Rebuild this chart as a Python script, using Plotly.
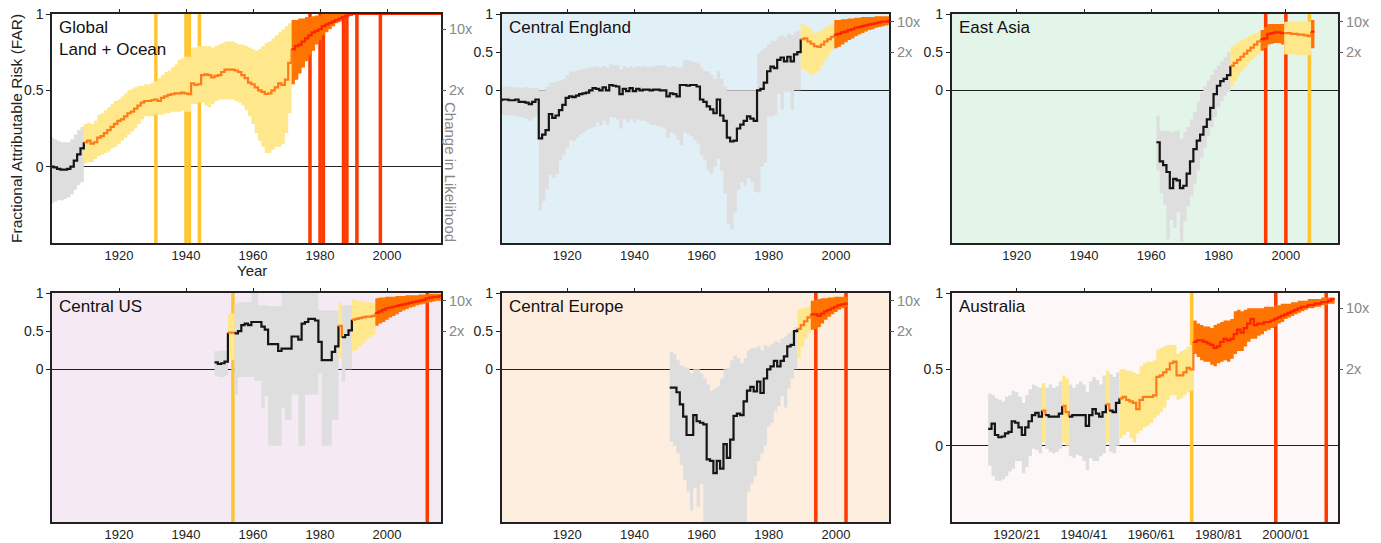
import plotly.graph_objects as go

# ------------------------------------------------------------------ data
YEAR_TICKS = [1920, 1940, 1960, 1980, 2000]
YEAR_LABELS = ["1920", "1940", "1960", "1980", "2000"]
SEASON_LABELS = ["1920/21", "1940/41", "1960/61", "1980/81", "2000/01"]
FAR_TICKS = [0, 0.5, 1]
FAR_LABELS = ["0", "0.5", "1"]
RR_TICKS = [0.5, 0.9]
RR_LABELS = ["2x", "10x"]
PANEL_NAMES = ["Global<br>Land + Ocean", "Central England", "East Asia",
               "Central US", "Central Europe", "Australia"]

# Global Land + Ocean, 1900-2016
GL_FIRST = 1900
GL_FAR = [0.00, -0.005, -0.015, -0.02, -0.02, -0.015, 0.00, 0.04, 0.08, 0.12,
          0.16, 0.17, 0.15, 0.16, 0.19, 0.20, 0.22, 0.24, 0.26, 0.28,
          0.30, 0.31, 0.33, 0.35, 0.36, 0.38, 0.40, 0.42, 0.43, 0.43,
          0.435, 0.44, 0.43, 0.45, 0.46, 0.47, 0.475, 0.48, 0.48, 0.485,
          0.48, 0.475, 0.545, 0.535, 0.54, 0.60, 0.605, 0.60, 0.585, 0.595,
          0.60, 0.62, 0.635, 0.635, 0.635, 0.63, 0.62, 0.60, 0.58, 0.55,
          0.54, 0.52, 0.50, 0.49, 0.476, 0.48, 0.50, 0.52, 0.545, 0.535,
          0.57, 0.68, 0.77, 0.79, 0.80, 0.82, 0.84, 0.86, 0.88, 0.89,
          0.90, 0.92, 0.93, 0.94, 0.95, 0.96, 0.97, 0.98, 0.99, 0.995,
          1.0, 1.0, 1.0, 1.0, 1.0, 1.0, 1.0, 1.0, 1.0, 1.0,
          1.0, 1.0, 1.0, 1.0, 1.0, 1.0, 1.0, 1.0, 1.0, 1.0,
          1.0, 1.0, 1.0, 1.0, 1.0, 1.0, 1.0]
GL_HI = [0.19, 0.18, 0.17, 0.16, 0.16, 0.16, 0.18, 0.21, 0.24, 0.26,
         0.28, 0.29, 0.28, 0.30, 0.34, 0.35, 0.37, 0.39, 0.41, 0.43,
         0.44, 0.46, 0.48, 0.50, 0.51, 0.52, 0.53, 0.53, 0.54, 0.54,
         0.55, 0.56, 0.58, 0.60, 0.62, 0.63, 0.65, 0.67, 0.70, 0.71,
         0.72, 0.72, 0.78, 0.78, 0.79, 0.79, 0.79, 0.79, 0.78, 0.79,
         0.80, 0.81, 0.82, 0.82, 0.82, 0.81, 0.80, 0.80, 0.79, 0.78,
         0.77, 0.76, 0.77, 0.79, 0.81, 0.82, 0.84, 0.86, 0.88, 0.90,
         0.92, 0.94, 0.96, 0.96, 0.97, 0.97, 0.98, 0.98, 0.985, 0.99,
         0.99, 1.0, 1.0, 1.0, 1.0, 1.0, 1.0, 1.0, 1.0, 1.0,
         1.0, 1.0, 1.0, 1.0, 1.0, 1.0, 1.0, 1.0, 1.0, 1.0,
         1.0, 1.0, 1.0, 1.0, 1.0, 1.0, 1.0, 1.0, 1.0, 1.0,
         1.0, 1.0, 1.0, 1.0, 1.0, 1.0, 1.0]
GL_LO = [-0.24, -0.23, -0.22, -0.22, -0.21, -0.20, -0.18, -0.15, -0.12, -0.10,
         0.02, 0.03, 0.03, 0.05, 0.07, 0.08, 0.09, 0.10, 0.12, 0.13,
         0.15, 0.17, 0.19, 0.21, 0.23, 0.25, 0.28, 0.31, 0.33, 0.33,
         0.33, 0.34, 0.34, 0.34, 0.35, 0.35, 0.36, 0.36, 0.36, 0.37,
         0.36, 0.36, 0.41, 0.41, 0.42, 0.42, 0.40, 0.39, 0.41, 0.43,
         0.44, 0.44, 0.44, 0.44, 0.44, 0.43, 0.42, 0.40, 0.37, 0.33,
         0.28, 0.22, 0.17, 0.13, 0.09, 0.09, 0.11, 0.13, 0.13, 0.15,
         0.22, 0.35, 0.54, 0.57, 0.61, 0.65, 0.69, 0.73, 0.76, 0.80,
         0.83, 0.86, 0.88, 0.90, 0.92, 0.94, 0.95, 0.97, 0.98, 0.99,
         1.0, 1.0, 1.0, 1.0, 1.0, 1.0, 1.0, 1.0, 1.0, 1.0,
         1.0, 1.0, 1.0, 1.0, 1.0, 1.0, 1.0, 1.0, 1.0, 1.0,
         1.0, 1.0, 1.0, 1.0, 1.0, 1.0, 1.0]
GL_SIG_FROM = [1900, 1910, 1972]
GL_SIG_LEVEL = [0, 1, 2]
GL_YELLOW = [1931, 1940, 1941, 1944]
GL_RED = [1977, 1980, 1981, 1987, 1988, 1991, 1998]

# Central England, 1900-2016
CE_FIRST = 1900
CE_FAR = [-0.13, -0.12, -0.12, -0.13, -0.13, -0.12, -0.15, -0.15, -0.16, -0.18,
          -0.15, -0.12, -0.63, -0.58, -0.52, -0.31, -0.36, -0.33, -0.26, -0.19,
          -0.10, -0.08, -0.09, -0.07, -0.05, -0.04, -0.03, 0.00, 0.03, 0.02,
          0.00, 0.04, 0.00, 0.07, 0.06, 0.05, -0.05, 0.02, -0.01, 0.03,
          -0.01, 0.02, 0.00, 0.01, 0.01, 0.00, 0.01, 0.01, 0.00, 0.00,
          -0.08, -0.04, -0.05, -0.08, 0.07, 0.07, 0.06, 0.07, 0.07, 0.05,
          -0.12, -0.15, -0.21, -0.25, -0.30, -0.12, -0.33, -0.40, -0.62, -0.67,
          -0.66, -0.50, -0.45, -0.40, -0.34, -0.37, -0.40, 0.00, 0.02, 0.10,
          0.25, 0.31, 0.29, 0.40, 0.43, 0.38, 0.44, 0.38, 0.47, 0.50,
          0.67, 0.68, 0.64, 0.61, 0.58, 0.57, 0.60, 0.64, 0.67, 0.70,
          0.73, 0.74, 0.76, 0.77, 0.79, 0.80, 0.82, 0.83, 0.84, 0.85,
          0.86, 0.87, 0.88, 0.89, 0.90, 0.90, 0.91]
CE_HI = [0.04, 0.04, 0.05, 0.05, 0.04, 0.04, 0.03, 0.04, 0.04, 0.03,
         0.03, 0.03, 0.00, 0.00, 0.05, 0.10, 0.10, 0.12, 0.13, 0.15,
         0.20, 0.25, 0.24, 0.26, 0.27, 0.28, 0.29, 0.30, 0.31, 0.32,
         0.30, 0.32, 0.30, 0.34, 0.33, 0.33, 0.28, 0.32, 0.30, 0.32,
         0.30, 0.32, 0.31, 0.32, 0.31, 0.31, 0.32, 0.33, 0.33, 0.33,
         0.30, 0.31, 0.32, 0.30, 0.30, 0.40, 0.40, 0.38, 0.37, 0.35,
         0.30, 0.25, 0.25, 0.20, 0.15, 0.25, 0.15, 0.05, 0.00, 0.00,
         0.00, 0.00, 0.00, 0.00, 0.00, 0.00, 0.00, 0.48, 0.52, 0.55,
         0.60, 0.65, 0.65, 0.70, 0.72, 0.70, 0.74, 0.72, 0.76, 0.78,
         0.88, 0.85, 0.82, 0.78, 0.75, 0.77, 0.80, 0.83, 0.86, 0.88,
         0.92, 0.92, 0.93, 0.93, 0.94, 0.94, 0.95, 0.95, 0.96, 0.96,
         0.96, 0.96, 0.97, 0.97, 0.97, 0.97, 0.97]
CE_LO = [-0.32, -0.32, -0.33, -0.33, -0.33, -0.34, -0.35, -0.36, -0.38, -0.40,
         -0.36, -0.33, -1.57, -1.45, -1.30, -1.10, -1.15, -1.10, -0.92, -0.85,
         -0.75, -0.65, -0.66, -0.62, -0.58, -0.55, -0.52, -0.50, -0.48, -0.42,
         -0.46, -0.40, -0.45, -0.35, -0.36, -0.38, -0.50, -0.38, -0.42, -0.38,
         -0.42, -0.38, -0.40, -0.40, -0.42, -0.45, -0.45, -0.46, -0.48, -0.50,
         -0.62, -0.55, -0.58, -0.65, -0.72, -0.55, -0.58, -0.60, -0.65, -0.70,
         -0.85, -0.92, -1.05, -1.10, -1.00, -0.90, -1.05, -1.35, -1.75, -1.82,
         -1.60, -1.30, -1.20, -1.25, -1.15, -1.20, -1.33, -1.34, -1.00, -0.95,
         -0.34, -0.34, -0.32, -0.05, -0.25, -0.02, -0.02, -0.25, 0.00, 0.00,
         0.28, 0.26, 0.22, 0.20, 0.22, 0.26, 0.33, 0.40, 0.47, 0.53,
         0.55, 0.57, 0.60, 0.63, 0.66, 0.68, 0.71, 0.73, 0.75, 0.77,
         0.79, 0.80, 0.82, 0.83, 0.84, 0.85, 0.86]
CE_SIG_FROM = [1900, 1990, 2000]
CE_SIG_LEVEL = [0, 1, 2]
CE_YELLOW = []
CE_RED = []

# East Asia, 1962-2008
EA_FIRST = 1962
EA_FAR = [-0.68, -0.93, -0.98, -1.07, -1.28, -1.16, -1.18, -1.28,
          -1.25, -1.09, -0.93, -0.77, -0.66, -0.58, -0.48, -0.38, -0.23, -0.05,
          0.06, 0.12, 0.15, 0.20, 0.32, 0.36, 0.40, 0.44, 0.48, 0.52,
          0.56, 0.60, 0.64, 0.67, 0.68, 0.74, 0.75, 0.76, 0.76, 0.75,
          0.75, 0.75, 0.74, 0.74, 0.73, 0.73, 0.72, 0.71, 0.77]
EA_HI = [-0.33, -0.53, -0.53, -0.53, -0.55, -0.53, -0.53, -0.64,
         -0.55, -0.48, -0.38, -0.28, -0.15, -0.03, 0.05, 0.13, 0.20, 0.27,
         0.33, 0.38, 0.43, 0.50, 0.57, 0.60, 0.63, 0.66, 0.68, 0.71,
         0.73, 0.75, 0.77, 0.79, 0.83, 0.87, 0.87, 0.87, 0.87, 0.87,
         0.90, 0.90, 0.90, 0.90, 0.90, 0.90, 0.90, 0.90, 0.92]
EA_LO = [-1.05, -1.35, -1.50, -1.95, -1.70, -1.80, -1.60, -1.98,
         -1.72, -1.52, -1.38, -1.22, -1.05, -0.88, -0.75, -0.60, -0.48, -0.35,
         -0.22, -0.14, -0.07, -0.02, 0.05, 0.12, 0.19, 0.25, 0.31, 0.36,
         0.40, 0.44, 0.48, 0.52, 0.55, 0.60, 0.61, 0.62, 0.62, 0.60,
         0.47, 0.47, 0.47, 0.47, 0.46, 0.46, 0.46, 0.46, 0.55]
EA_SIG_FROM = [1962, 1984, 1993, 2000, 2008]
EA_SIG_LEVEL = [0, 1, 2, 1, 2]
EA_YELLOW = [2007]
EA_RED = [1994, 2000]

# Central US, 1949-2016
US_FIRST = 1949
US_FAR = [0.09, 0.07, 0.08, 0.10, 0.48, 0.48, 0.47, 0.50, 0.58, 0.60,
          0.58, 0.62, 0.62, 0.62, 0.56, 0.52, 0.33, 0.33, 0.33, 0.24,
          0.27, 0.27, 0.27, 0.43, 0.43, 0.39, 0.60, 0.62, 0.66, 0.66,
          0.64, 0.36, 0.12, 0.12, 0.12, 0.23, 0.30, 0.57, 0.42, 0.45,
          0.51, 0.65, 0.66, 0.67, 0.68, 0.69, 0.69, 0.70, 0.74, 0.76,
          0.78, 0.80, 0.81, 0.82, 0.83, 0.84, 0.85, 0.86, 0.87, 0.88,
          0.89, 0.90, 0.91, 0.93, 0.94, 0.95, 0.95, 0.96]
US_HI = [0.24, 0.24, 0.25, 0.24, 0.73, 0.73, 0.86, 0.88, 0.88, 0.88,
         0.88, 1.00, 1.00, 0.84, 0.84, 0.84, 0.83, 0.83, 0.83, 0.83,
         1.00, 1.00, 1.00, 1.00, 1.00, 1.00, 1.00, 1.00, 1.00, 1.00,
         1.00, 0.77, 0.77, 0.77, 0.77, 0.77, 0.77, 0.87, 0.84, 0.84,
         0.84, 0.91, 0.90, 0.90, 0.89, 0.88, 0.88, 0.87, 0.93, 0.94,
         0.94, 0.95, 0.95, 0.95, 0.96, 0.96, 0.96, 0.97, 0.97, 0.97,
         0.97, 0.98, 0.98, 0.98, 0.99, 0.99, 0.99, 0.99]
US_LO = [-0.08, -0.10, -0.10, -0.08, 0.12, 0.12, -0.33, -0.10, -0.10, -0.10,
         -0.10, -0.10, -0.15, -0.15, -0.50, -0.35, -1.00, -1.00, -1.00, -1.00,
         -0.50, -0.66, -0.66, -0.33, -0.33, -1.00, -1.00, -0.33, -0.33, -0.33,
         -0.33, -0.05, -1.00, -1.00, -1.00, -0.66, -0.66, 0.14, -0.16, 0.00,
         0.00, 0.24, 0.26, 0.30, 0.34, 0.38, 0.42, 0.45, 0.57, 0.60,
         0.62, 0.65, 0.68, 0.70, 0.72, 0.75, 0.77, 0.79, 0.81, 0.82,
         0.84, 0.85, 0.86, 0.87, 0.88, 0.89, 0.90, 0.90]
US_SIG_FROM = [1949, 1953, 1955, 1986, 1987, 1990, 1997]
US_SIG_LEVEL = [0, 1, 0, 1, 0, 1, 2]
US_YELLOW = [1954]
US_RED = [2012]

# Central Europe, 1951-2003
EU_FIRST = 1951
EU_FAR = [-0.24, -0.24, -0.30, -0.46, -0.62, -0.86, -0.86, -0.60, -0.68,
          -0.70, -0.72, -1.18, -1.20, -1.36, -1.20, -1.30, -0.98, -1.16, -0.92,
          -0.61, -0.58, -0.60, -0.42, -0.28, -0.23, -0.29, -0.16, -0.31, -0.12,
          0.00, 0.04, 0.11, 0.04, 0.11, 0.17, 0.30, 0.32, 0.50, 0.53,
          0.58, 0.63, 0.68, 0.72, 0.72, 0.70, 0.73, 0.76, 0.78, 0.80,
          0.82, 0.84, 0.85, 0.86]
EU_HI = [0.23, 0.20, 0.12, 0.05, 0.03, 0.02, -0.05, 0.00, 0.00,
         -0.05, -0.12, -0.20, -0.28, -0.25, -0.22, -0.12, 0.00, 0.02, 0.12,
         0.18, 0.15, 0.08, 0.15, 0.25, 0.28, 0.28, 0.30, 0.25, 0.32,
         0.30, 0.33, 0.37, 0.35, 0.40, 0.43, 0.47, 0.50, 0.55, 0.78,
         0.80, 0.81, 0.82, 0.90, 0.91, 0.92, 0.93, 0.93, 0.94, 0.94,
         0.95, 0.95, 0.95, 0.95]
EU_LO = [-0.95, -1.00, -1.10, -1.25, -1.45, -1.60, -1.85, -1.55, -1.80,
         -1.50, -2.00, -2.00, -2.00, -2.00, -2.00, -2.00, -2.00, -2.00, -2.00,
         -2.00, -2.00, -2.00, -2.00, -1.60, -1.50, -1.40, -1.20, -1.10, -1.00,
         -0.75, -0.70, -0.55, -0.48, -0.35, -0.50, -0.25, -0.12, 0.00, 0.15,
         0.30, 0.40, 0.48, 0.52, 0.53, 0.55, 0.60, 0.65, 0.69, 0.72,
         0.75, 0.78, 0.80, 0.82]
EU_SIG_FROM = [1951, 1989, 1993]
EU_SIG_LEVEL = [0, 1, 2]
EU_YELLOW = []
EU_RED = [1994, 2003]

# Australia, 1912-2014 (seasons)
AU_FIRST = 1912
AU_FAR = [0.11, 0.145, 0.07, 0.055, 0.06, 0.08, 0.09, 0.16,
          0.15, 0.12, 0.07, 0.12, 0.16, 0.20, 0.215, 0.19, 0.23, 0.20,
          0.19, 0.19, 0.19, 0.21, 0.26, 0.22, 0.19, 0.20, 0.20, 0.20,
          0.20, 0.13, 0.20, 0.24, 0.21, 0.19, 0.22, 0.27, 0.23, 0.22,
          0.28, 0.31, 0.32, 0.30, 0.29, 0.28, 0.24, 0.30, 0.32, 0.32,
          0.32, 0.33, 0.45, 0.46, 0.48, 0.50, 0.54, 0.55, 0.46, 0.46,
          0.48, 0.51, 0.50, 0.68, 0.69, 0.69, 0.68, 0.67, 0.66, 0.64,
          0.65, 0.68, 0.70, 0.69, 0.70, 0.73, 0.76, 0.74, 0.77, 0.80,
          0.83, 0.79, 0.80, 0.80, 0.81, 0.81, 0.82, 0.83, 0.84, 0.85,
          0.86, 0.87, 0.88, 0.89, 0.90, 0.91, 0.91, 0.92, 0.92, 0.93,
          0.93, 0.94, 0.94, 0.95, 0.96]
AU_HI = [0.34, 0.33, 0.31, 0.30, 0.29, 0.32, 0.33, 0.36,
         0.35, 0.32, 0.28, 0.33, 0.37, 0.40, 0.39, 0.38, 0.41, 0.38,
         0.40, 0.38, 0.39, 0.42, 0.46, 0.44, 0.40, 0.38, 0.40, 0.42,
         0.40, 0.35, 0.42, 0.45, 0.43, 0.40, 0.46, 0.49, 0.47, 0.45,
         0.48, 0.50, 0.50, 0.49, 0.49, 0.48, 0.47, 0.52, 0.54, 0.55,
         0.55, 0.56, 0.63, 0.64, 0.65, 0.66, 0.66, 0.66, 0.60, 0.62,
         0.63, 0.65, 0.66, 0.82, 0.80, 0.79, 0.78, 0.78, 0.77, 0.79,
         0.80, 0.81, 0.82, 0.82, 0.83, 0.88, 0.89, 0.88, 0.89, 0.90,
         0.90, 0.90, 0.90, 0.90, 0.91, 0.91, 0.91, 0.92, 0.92, 0.93,
         0.93, 0.93, 0.94, 0.94, 0.95, 0.95, 0.95, 0.96, 0.96, 0.96,
         0.96, 0.97, 0.97, 0.97, 0.97]
AU_LO = [-0.13, -0.20, -0.23, -0.23, -0.22, -0.20, -0.17, -0.15,
         -0.10, -0.10, -0.18, -0.14, -0.07, -0.02, -0.03, -0.05, 0.02, -0.02,
         -0.04, -0.05, -0.04, -0.02, 0.02, 0.00, -0.07, -0.08, -0.06, -0.07,
         -0.10, -0.16, -0.08, -0.10, -0.10, -0.07, -0.05, 0.02, -0.04, -0.05,
         0.00, 0.05, 0.07, 0.09, 0.05, 0.02, 0.08, 0.10, 0.12, 0.13,
         0.15, 0.18, 0.20, 0.22, 0.25, 0.30, 0.33, 0.33, 0.30, 0.31,
         0.33, 0.35, 0.36, 0.60, 0.58, 0.56, 0.55, 0.55, 0.53, 0.52,
         0.54, 0.55, 0.56, 0.55, 0.57, 0.60, 0.62, 0.62, 0.65, 0.68,
         0.70, 0.70, 0.72, 0.73, 0.75, 0.76, 0.77, 0.78, 0.80, 0.81,
         0.83, 0.84, 0.85, 0.86, 0.87, 0.88, 0.89, 0.90, 0.90, 0.91,
         0.91, 0.92, 0.92, 0.93, 0.93]
AU_SIG_FROM = [1912, 1928, 1929, 1934, 1936, 1947, 1948, 1951, 1973]
AU_SIG_LEVEL = [0, 1, 0, 1, 0, 1, 0, 1, 2]
AU_YELLOW = [1972]
AU_RED = [1997, 2012]

# ------------------------------------------------------------------ styles
BAND_COLOR = {0: "#DEDEDE", 1: "#FFE88C", 2: "#FF7300"}
LINE_COLOR = {0: "#151515", 1: "#FF7A18", 2: "#FF2400"}
YELLOW_BAR = "#FFC432"
RED_BAR = "#FF3A00"
BG = ["#FFFFFF", "#E1EFF7", "#E3F4E9", "#F5E9F3", "#FDEEE0", "#FDF7F7"]
FONT = "Liberation Sans, Arial, Helvetica, sans-serif"
W, H = 1381, 543

COLS = [(52, 441), (501.5, 889), (951.5, 1338)]
ROWS = [(14, 243), (293, 522)]
XRANGES = [(1900, 2016.1), (1900.4, 2015.8), (1900.6, 2015.5)]

PANELS = [
    (GL_FIRST, GL_FAR, GL_LO, GL_HI, GL_SIG_FROM, GL_SIG_LEVEL, GL_YELLOW, GL_RED, (-0.5, 1), YEAR_LABELS),
    (CE_FIRST, CE_FAR, CE_LO, CE_HI, CE_SIG_FROM, CE_SIG_LEVEL, CE_YELLOW, CE_RED, (-2, 1), YEAR_LABELS),
    (EA_FIRST, EA_FAR, EA_LO, EA_HI, EA_SIG_FROM, EA_SIG_LEVEL, EA_YELLOW, EA_RED, (-2, 1), YEAR_LABELS),
    (US_FIRST, US_FAR, US_LO, US_HI, US_SIG_FROM, US_SIG_LEVEL, US_YELLOW, US_RED, (-2, 1), YEAR_LABELS),
    (EU_FIRST, EU_FAR, EU_LO, EU_HI, EU_SIG_FROM, EU_SIG_LEVEL, EU_YELLOW, EU_RED, (-2, 1), YEAR_LABELS),
    (AU_FIRST, AU_FAR, AU_LO, AU_HI, AU_SIG_FROM, AU_SIG_LEVEL, AU_YELLOW, AU_RED, (-0.5, 1), SEASON_LABELS),
]

fig = go.Figure()
layout = dict(width=W, height=H, margin=dict(l=0, r=0, t=0, b=0, autoexpand=False),
              paper_bgcolor="white", plot_bgcolor="white", showlegend=False,
              barmode="overlay", font=dict(family=FONT, color="#222"))
shapes, annotations = [], []


def axname(prefix, n):
    return prefix if n == 1 else f"{prefix}{n}"


for idx, (first, far, lo, hi, sfrom, slev, yel, red, yr, xlabels) in enumerate(PANELS):
    p = idx + 1
    assert len(far) == len(lo) == len(hi), (p, len(far), len(lo), len(hi))
    col, row = idx % 3, idx // 3
    x0, x1 = COLS[col]
    y0, y1 = ROWS[row]
    xdom = [x0 / W, x1 / W]
    ydom = [1 - y1 / H, 1 - y0 / H]
    xr = list(XRANGES[col])
    xa, ya = axname("x", p), axname("y", p)
    xo, yo = f"x{p + 6}", f"y{p + 6}"

    years = list(range(first, first + len(far)))
    levels = []
    for y in years:
        lv = slev[0]
        for s, l in zip(sfrom, slev):
            if y >= s:
                lv = l
        levels.append(lv)
    runs = []
    start = 0
    for i in range(1, len(years) + 1):
        if i == len(years) or levels[i] != levels[start]:
            runs.append((start, i - 1))
            start = i

    # uncertainty bands
    for a, b in runs:
        lv = levels[a]
        xs = [years[i] - 0.5 for i in range(a, b + 1)] + [years[b] + 0.5]
        ylo = [lo[i] for i in range(a, b + 1)] + [lo[b]]
        yhi = [hi[i] for i in range(a, b + 1)] + [hi[b]]
        fig.add_trace(go.Scatter(x=xs, y=ylo, mode="lines", xaxis=xa, yaxis=ya,
                                 line=dict(width=0, shape="hv", color=BAND_COLOR[lv]),
                                 hoverinfo="skip"))
        fig.add_trace(go.Scatter(x=xs, y=yhi, mode="lines", xaxis=xa, yaxis=ya,
                                 line=dict(width=0, shape="hv", color=BAND_COLOR[lv]),
                                 fill="tonexty", fillcolor=BAND_COLOR[lv], hoverinfo="skip"))

    # record years: full-height bars
    for yrs, colr in ((yel, YELLOW_BAR), (red, RED_BAR)):
        if yrs:
            fig.add_trace(go.Bar(x=yrs, y=[yr[1] - yr[0]] * len(yrs), base=yr[0], width=1.05,
                                 xaxis=xa, yaxis=ya, marker=dict(color=colr, line=dict(width=0)),
                                 hoverinfo="skip"))

    # best-estimate FAR line
    for k, (a, b) in enumerate(runs):
        lv = levels[a]
        xs = [years[i] - 0.5 for i in range(a, b + 1)] + [years[b] + 0.5]
        ys = [far[i] for i in range(a, b + 1)] + [far[b]]
        if k + 1 < len(runs):
            xs.append(years[b] + 0.5)
            ys.append(far[b + 1])
        fig.add_trace(go.Scatter(x=xs, y=ys, mode="lines", xaxis=xa, yaxis=ya,
                                 line=dict(width=2.2, shape="hv", color=LINE_COLOR[lv]),
                                 hoverinfo="skip"))

    # empty trace to realise the overlay axes (top ticks, right likelihood axis)
    fig.add_trace(go.Scatter(x=[None], y=[None], xaxis=xo, yaxis=yo, mode="lines",
                             hoverinfo="skip"))

    layout[axname("xaxis", p)] = dict(
        domain=xdom, range=xr, anchor=ya, showline=True, linecolor="#222", linewidth=1.5,
        mirror=True, ticks="", tickvals=YEAR_TICKS, ticktext=xlabels, automargin=False,
        tickfont=dict(size=13, color="#222"), showgrid=False, zeroline=False, fixedrange=True)
    layout[axname("yaxis", p)] = dict(
        domain=ydom, range=list(yr), anchor=xa, showline=True, linecolor="#222", linewidth=1.5,
        mirror=True, ticks="outside", ticklen=4, tickcolor="#222", tickwidth=1, automargin=False,
        tickvals=FAR_TICKS, ticktext=FAR_LABELS, tickfont=dict(size=14, color="#222"),
        showgrid=False, zeroline=True, zerolinecolor="#222", zerolinewidth=1.3, fixedrange=True)
    layout[f"xaxis{p + 6}"] = dict(
        overlaying=xa, anchor=yo, side="top", range=xr, tickvals=YEAR_TICKS, automargin=False,
        ticks="outside", ticklen=4, tickcolor="#222", showticklabels=False,
        showline=False, showgrid=False, zeroline=False, fixedrange=True)
    layout[f"yaxis{p + 6}"] = dict(
        overlaying=ya, anchor=xo, side="right", range=list(yr), tickvals=RR_TICKS,
        ticktext=RR_LABELS, ticks="outside", ticklen=4, tickcolor="#555", automargin=False,
        tickfont=dict(size=14.5, color="#888"), showline=False, showgrid=False,
        zeroline=False, fixedrange=True)

    shapes.append(dict(type="rect", xref=f"{xa} domain", yref=f"{ya} domain",
                       x0=0, x1=1, y0=0, y1=1, fillcolor=BG[idx], line=dict(width=0),
                       layer="below"))
    annotations.append(dict(text=PANEL_NAMES[idx], xref=f"{xa} domain", yref=f"{ya} domain",
                            x=0.014, y=0.99, xanchor="left", yanchor="top", showarrow=False,
                            align="left", font=dict(size=17, color="#111")))

annotations.append(dict(text="Fractional Attributable Risk (FAR)", xref="paper", yref="paper",
                        x=16.5 / W, y=1 - 128.5 / H, textangle=-90, showarrow=False,
                        xanchor="center", yanchor="middle", font=dict(size=15.5, color="#222")))
annotations.append(dict(text="Year", xref="paper", yref="paper", x=252 / W, y=1 - 270 / H,
                        showarrow=False, xanchor="center", yanchor="middle",
                        font=dict(size=15, color="#222")))
annotations.append(dict(text="Change in Likelihood", xref="paper", yref="paper",
                        x=451 / W, y=1 - 172 / H, textangle=90, showarrow=False,
                        xanchor="center", yanchor="middle", font=dict(size=15, color="#888")))

layout["shapes"] = shapes
layout["annotations"] = annotations
fig.update_layout(**layout)
fig.write_html("out.html", config={"displayModeBar": False},
               post_script="document.body.style.margin='0px';document.body.style.padding='0px';")
